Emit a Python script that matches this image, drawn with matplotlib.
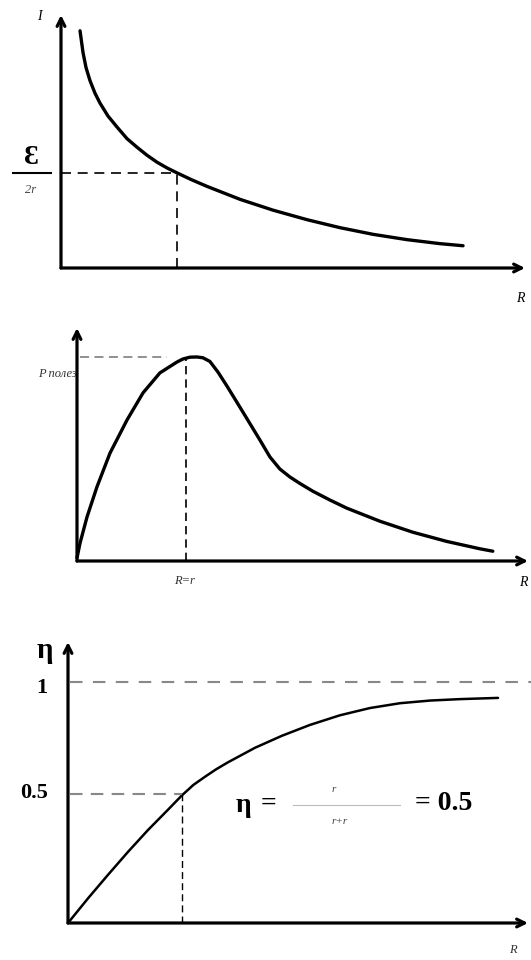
"""
Три графика для цепи постоянного тока: I(R), P полез(R), η(R)
"""
import matplotlib
matplotlib.use('Agg')
import matplotlib.pyplot as plt
from matplotlib.lines import Line2D

plt.rcParams['font.family'] = ['Liberation Serif', 'DejaVu Serif']

W, H = 531, 960

# ========== данные (R в единицах r) ==========
# 1. ток I(R), I в единицах Ɛ/r
r_current = [0.164, 0.190, 0.216, 0.250, 0.293, 0.336, 0.405, 0.483, 0.569,
             0.655, 0.741, 0.828, 0.914, 1.0, 1.129, 1.259, 1.543, 1.828,
             2.121, 2.405, 2.690, 2.983, 3.267, 3.466]
i_current = [1.247, 1.132, 1.053, 0.985, 0.919, 0.867, 0.799, 0.741, 0.680,
             0.635, 0.593, 0.556, 0.526, 0.500, 0.463, 0.429, 0.361, 0.304,
             0.254, 0.212, 0.177, 0.149, 0.128, 0.117]
i_half = 0.5        # Ɛ/2r
r_match = 1.0       # R = r

# 2. полезная мощность, P / P max
r_power = [0.0, 0.028, 0.092, 0.183, 0.303, 0.459, 0.606, 0.761, 0.917,
           0.972, 1.037, 1.101, 1.156, 1.220, 1.294, 1.376, 1.523, 1.679,
           1.771, 1.862, 1.954, 2.046, 2.165, 2.321, 2.477, 2.780, 3.083,
           3.394, 3.697, 3.817]
p_power = [0.015, 0.088, 0.216, 0.363, 0.529, 0.691, 0.824, 0.922, 0.975,
           0.990, 0.999, 1.0, 0.996, 0.978, 0.926, 0.858, 0.730, 0.593,
           0.510, 0.451, 0.412, 0.380, 0.342, 0.299, 0.259, 0.195, 0.141,
           0.096, 0.060, 0.048]
p_max = 1.0

# 3. КПД η(R)
r_eff = [0.0, 0.175, 0.351, 0.526, 0.702, 0.877, 1.0, 1.1, 1.202, 1.3, 1.404,
         1.640, 1.877, 2.123, 2.386, 2.649, 2.912, 3.175, 3.439, 3.772]
eta = [0.0, 0.102, 0.200, 0.295, 0.386, 0.470, 0.530, 0.573, 0.607, 0.638,
       0.667, 0.727, 0.777, 0.822, 0.862, 0.892, 0.912, 0.923, 0.929, 0.934]
eta_ticks = [0.535, 1.0]
eta_tick_labels = ['0.5', '1']


def px_axes(fig, left, top, right, bottom):
    """оси по пиксельной рамке"""
    ax = fig.add_axes([left / W, 1 - bottom / H, (right - left) / W, (bottom - top) / H])
    ax.set_axis_off()
    return ax


def ftext(fig, x, y, s, **kw):
    kw.setdefault('ha', 'center')
    kw.setdefault('va', 'center')
    fig.text(x / W, 1 - y / H, s, **kw)


def draw_axes_arrows(ax, lw=2.3):
    x0, x1 = ax.get_xlim()
    y0, y1 = ax.get_ylim()
    style = dict(arrowstyle='->', lw=lw, color='black', shrinkA=0, shrinkB=0,
                 mutation_scale=14)
    ax.annotate('', xy=(x1, 0), xytext=(0, 0), arrowprops=style, annotation_clip=False)
    ax.annotate('', xy=(0, y1), xytext=(0, 0), arrowprops=style, annotation_clip=False)


fig = plt.figure(figsize=(W / 100, H / 100), dpi=100)

# ---------- график 1: I(R) ----------
ax1 = px_axes(fig, 61, 15, 525, 268)
ax1.set_xlim(0, 4.0)
ax1.set_ylim(0, 1.33)
draw_axes_arrows(ax1)
ax1.plot(r_current, i_current, color='black', lw=2.4, solid_capstyle='round',
         solid_joinstyle='round', clip_on=False)
ax1.plot([0, r_match], [i_half, i_half], color='black', lw=1.2, ls=(0, (6, 4)))
ax1.plot([r_match, r_match], [0, i_half], color='black', lw=1.2, ls=(0, (6, 4)))
ax1.plot([-0.41, -0.09], [i_half, i_half], color='black', lw=1.5, clip_on=False)
ftext(fig, 39, 16, 'I', fontsize=10, style='italic')
ftext(fig, 31, 158, 'Ɛ', fontsize=20, fontweight='bold')
ftext(fig, 31, 190, '2r', fontsize=9, style='italic', color='#444444')
ftext(fig, 520, 299, 'R', fontsize=10, style='italic')

# ---------- график 2: P полез(R) ----------
ax2 = px_axes(fig, 77, 328, 528, 561)
ax2.set_xlim(0, 4.14)
ax2.set_ylim(0, 1.142)
draw_axes_arrows(ax2)
ax2.plot(r_power, p_power, color='black', lw=2.4, solid_capstyle='round',
         solid_joinstyle='round', clip_on=False)
ax2.plot([0.03, 0.83], [p_max, p_max], color='#888888', lw=1.3, ls=(0, (5, 3)))
ax2.plot([r_match, r_match], [0, p_max], color='black', lw=1.2, ls=(0, (5, 3)))
ftext(fig, 57, 374, 'P полез', fontsize=9, style='italic', color='#333333')
ftext(fig, 184, 581, 'R=r', fontsize=9, style='italic', color='#333333')
ftext(fig, 523, 583, 'R', fontsize=10, style='italic')

# ---------- график 3: η(R) ----------
ax3 = px_axes(fig, 68, 642, 528, 923)
ax3.set_xlim(0, 4.035)
ax3.set_ylim(0, 1.166)
draw_axes_arrows(ax3)
ax3.plot(r_eff, eta, color='black', lw=1.8, solid_capstyle='round',
         solid_joinstyle='round', clip_on=False)
ax3.plot([0.02, 4.07], [eta_ticks[1]] * 2, color='#888888', lw=1.5,
         ls=(0, (6, 5)), clip_on=False)
ax3.plot([0.02, r_match], [eta_ticks[0]] * 2, color='#888888', lw=1.5, ls=(0, (6, 4)))
ax3.plot([r_match, r_match], [0, eta_ticks[0]], color='black', lw=1.0, ls=(0, (5, 3)))
ytr = ax3.get_yaxis_transform()
ax3.text(-0.058, eta_ticks[1] - 0.025, eta_tick_labels[1], transform=ytr, ha='center',
         va='center', fontsize=16, fontweight='bold', clip_on=False)
ax3.text(-0.074, eta_ticks[0] + 0.005, eta_tick_labels[0], transform=ytr, ha='center',
         va='center', fontsize=16, fontweight='bold', clip_on=False)
ftext(fig, 45, 650, 'η', fontsize=21, fontweight='bold')
ftext(fig, 513, 950, 'R', fontsize=9, style='italic', color='#333333')

# формула η = r/(r+r) = 0.5
ftext(fig, 243, 806, 'η', fontsize=20, fontweight='bold')
ftext(fig, 268, 804, '=', fontsize=20, fontweight='bold')
fig.add_artist(Line2D([293 / W, 400 / W], [1 - 805 / H] * 2, color='#bbbbbb', lw=0.8))
ftext(fig, 334, 789, 'r', fontsize=8, style='italic', color='#444444')
ftext(fig, 340, 821, 'r+r', fontsize=8, style='italic', color='#444444')
ftext(fig, 444, 804, '= 0.5', fontsize=20, fontweight='bold')

fig.savefig('out.png', dpi=100)
plt.close(fig)
